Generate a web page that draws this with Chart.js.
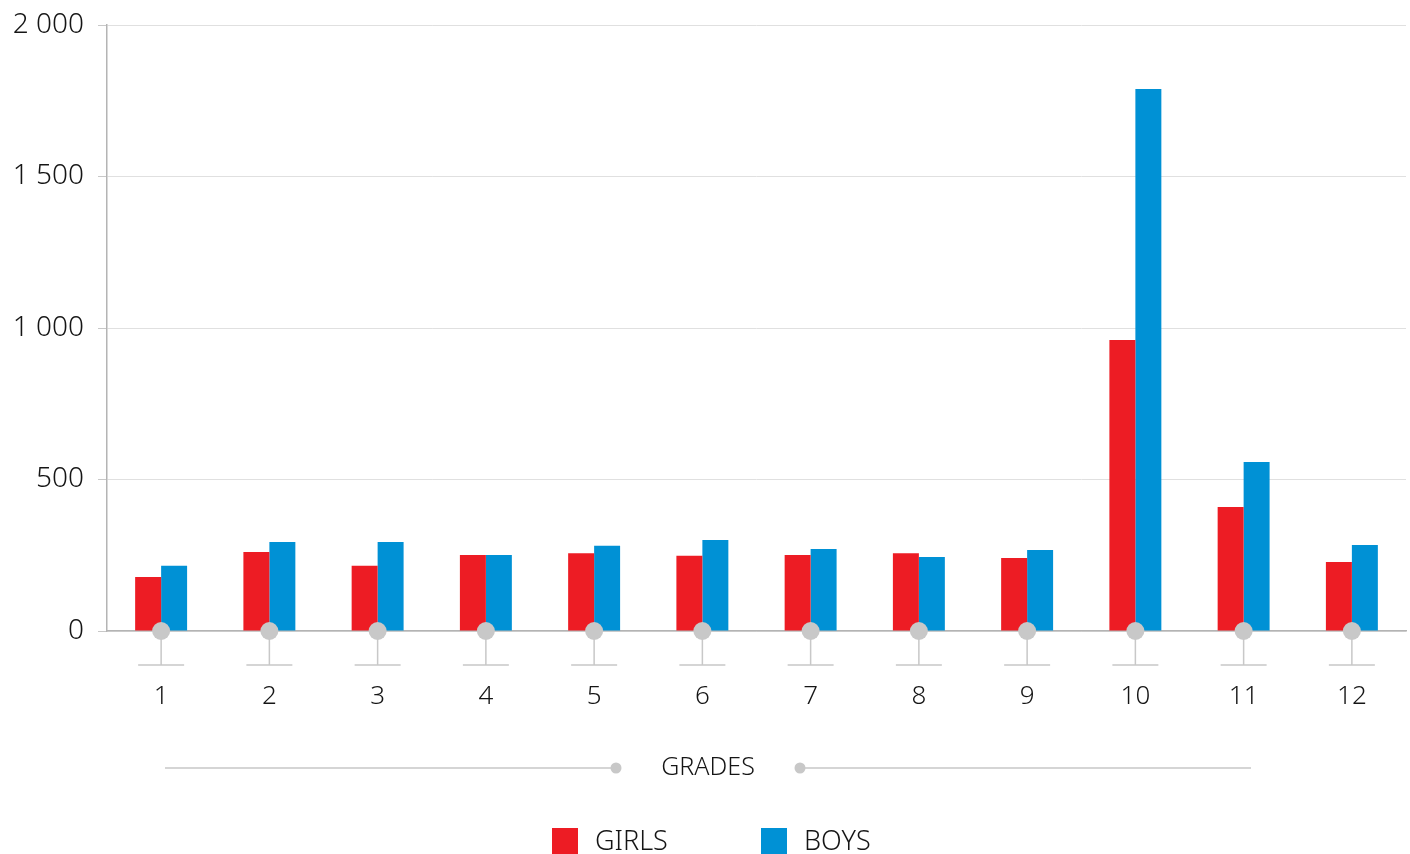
<!DOCTYPE html>
<html>
<head>
<meta charset="utf-8">
<script src="https://cdn.jsdelivr.net/npm/chart.js@4/dist/chart.umd.min.js"></script>
<style>
  body { margin: 0; background: #fff; }
  #wrap { width: 1410px; height: 854px; position: relative; }
</style>
</head>
<body>
<div id="wrap"><canvas id="grades-chart"></canvas></div>
<script>
const grades = ['1', '2', '3', '4', '5', '6', '7', '8', '9', '10', '11', '12']
const girls = [178, 261, 215, 251, 257, 248, 251, 257, 241, 960, 409, 228]
const boys = [215, 294, 294, 251, 281, 300, 271, 244, 267, 1789, 558, 284]
const yTicks = [0, 500, 1000, 1500, 2000]
const yTickLabels = ['0', '500', '1 000', '1 500', '2 000']

const colors = { girls: '#ed1c24', boys: '#0091d5', deco: '#c8c8c8', text: '#151515' }
const fontFamily = '"Noto Sans", "Open Sans", sans-serif'

// tick "pins", axis title with lines and the legend, all drawn under the plot
const decoPlugin = {
  id: 'deco',
  afterDatasetsDraw(chart) {
    const { ctx, chartArea, scales } = chart
    const base = chartArea.bottom
    ctx.save()
    ctx.strokeStyle = colors.deco
    ctx.fillStyle = colors.deco
    ctx.lineWidth = 1.5
    grades.forEach((g, i) => {
      const x = scales.x.getPixelForValue(i)
      ctx.beginPath()
      ctx.moveTo(x, base)
      ctx.lineTo(x, base + 34)
      ctx.moveTo(x - 23, base + 34)
      ctx.lineTo(x + 23, base + 34)
      ctx.stroke()
      ctx.beginPath()
      ctx.arc(x, base, 9, 0, Math.PI * 2)
      ctx.fill()
    })

    // axis title
    const cx = 708
    const ty = base + 136
    ctx.font = `300 25px ${fontFamily}`
    ctx.fillStyle = colors.text
    ctx.textAlign = 'center'
    ctx.textBaseline = 'middle'
    ctx.fillText('GRADES', cx, ty + 1)
    ctx.fillStyle = colors.deco
    ctx.beginPath()
    ctx.moveTo(165, ty + 1)
    ctx.lineTo(cx - 92, ty + 1)
    ctx.moveTo(cx + 92, ty + 1)
    ctx.lineTo(1251, ty + 1)
    ctx.stroke()
    ;[cx - 92, cx + 92].forEach(x => {
      ctx.beginPath()
      ctx.arc(x, ty + 1, 5.5, 0, Math.PI * 2)
      ctx.fill()
    })

    // legend
    const ly = base + 210
    const items = [
      { label: chart.data.datasets[0].label, color: colors.girls, x: 552 },
      { label: chart.data.datasets[1].label, color: colors.boys, x: 761 },
    ]
    ctx.font = `300 27px ${fontFamily}`
    ctx.textAlign = 'left'
    items.forEach(it => {
      ctx.fillStyle = it.color
      ctx.fillRect(it.x, ly - 13, 26, 26)
      ctx.fillStyle = colors.text
      ctx.fillText(it.label, it.x + 43, ly + 1)
    })
    ctx.restore()
  }
}

new Chart(document.querySelector('#grades-chart'), {
  type: 'bar',
  data: {
    labels: grades,
    datasets: [
      { label: 'GIRLS', data: girls, backgroundColor: colors.girls },
      { label: 'BOYS', data: boys, backgroundColor: colors.boys },
    ]
  },
  options: {
    responsive: true,
    maintainAspectRatio: false,
    animation: false,
    layout: { padding: { top: 25, right: 4, left: 0, bottom: 0 } },
    datasets: { bar: { categoryPercentage: 0.48, barPercentage: 1 } },
    plugins: {
      legend: { display: false },
      tooltip: { enabled: false },
    },
    scales: {
      x: {
        grid: { display: false },
        border: { color: '#b4b4b4', width: 1.5 },
        ticks: {
          color: colors.text,
          font: { family: fontFamily, size: 26, weight: 300 },
          padding: 42,
        },
        afterFit: scale => { scale.height = 223 },
      },
      y: {
        min: 0,
        max: 2000,
        afterBuildTicks: scale => { scale.ticks = yTicks.map(v => ({ value: v })) },
        grid: { color: '#e0e0e0', tickColor: '#c8c8c8', tickLength: 9, lineWidth: 1 },
        border: { color: '#b4b4b4', width: 1.5 },
        ticks: {
          color: colors.text,
          font: { family: fontFamily, size: 28, weight: 300 },
          padding: 14,
          callback: (v) => yTickLabels[yTicks.indexOf(v)],
        },
        afterFit: scale => {
          scale.width = 107
          scale.paddingTop = 0
          scale.paddingBottom = 0
        },
      }
    }
  },
  plugins: [decoPlugin]
})
</script>
</body>
</html>
